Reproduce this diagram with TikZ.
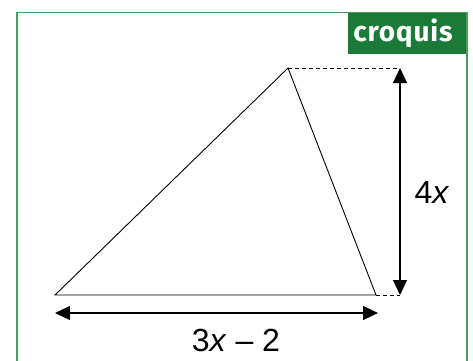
\documentclass[tikz,border=0pt]{standalone}
\usepackage{fontspec}
\setmainfont{Liberation Sans}
\newfontfamily\boxfont[LetterSpace=3]{Fira Sans}
\usetikzlibrary{arrows.meta}
\definecolor{framegreen}{HTML}{4E9A5E}
\definecolor{boxgreen}{HTML}{1C7A38}
\begin{document}
\begin{tikzpicture}[x=1pt,y=-1pt,
  tri/.style={line width=0.9pt},
  dim/.style={line width=1.2pt,{Triangle[length=15pt,width=14pt]}-{Triangle[length=15pt,width=14pt]}},
  guide/.style={line width=0.8pt,dash pattern=on 4pt off 3pt},
  lbl/.style={font=\fontsize{32}{34}\selectfont,inner sep=0pt}]
\useasboundingbox (0,0) rectangle (473,360);
\draw[framegreen,line width=1.3pt] (17,362) -- (17,12.5) -- (467,12.5) -- (467,362);
\fill[boxgreen] (348,13) rectangle (466.4,54);
\node[text=white,inner sep=0pt,font=\boxfont\bfseries\fontsize{28}{30}\selectfont] (cr) at (403,33) {croquis};
\coordinate (A) at (55,295);
\coordinate (B) at (288,68);
\coordinate (C) at (376,295);
\coordinate (T) at (400,68);
\coordinate (D) at (400,295);
\coordinate (H1) at (55,313);
\coordinate (H2) at (378,313);
\draw[tri] (A) -- (B) -- (C) -- cycle;
\draw[guide] (B) -- (T);
\draw[guide] (C) -- (D);
\draw[dim] (T) -- (D);
\draw[dim] (H1) -- (H2);
\node[lbl] (h) at (432,192) {4\textit{x}};
\node[lbl] (b) at (236,340) {3\textit{x} – 2};
\end{tikzpicture}
\end{document}
